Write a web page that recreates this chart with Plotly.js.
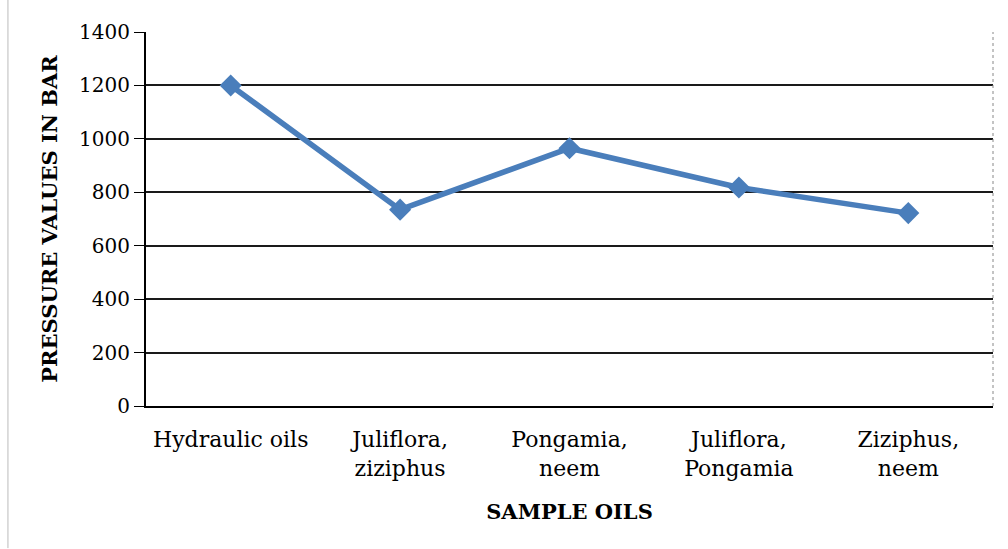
<!DOCTYPE html>
<html>
<head>
<meta charset="utf-8">
<script src="https://cdn.plot.ly/plotly-3.0.1.min.js"></script>
<style>html,body{margin:0;padding:0;background:#fff;}#chart{width:1008px;height:549px;}</style>
</head>
<body>
<div id="chart"></div>
<script>
const categories = ["Hydraulic oils", "Juliflora,<br>ziziphus", "Pongamia,<br>neem", "Juliflora,<br>Pongamia", "Ziziphus,<br>neem"];
const pressureValues = [1200, 735, 965, 818, 722];
const yTickValues = [0, 200, 400, 600, 800, 1000, 1200, 1400];

const trace = {
  x: categories,
  y: pressureValues,
  type: 'scatter',
  mode: 'lines+markers',
  line: {color: '#4A7EBB', width: 5.5},
  marker: {symbol: 'diamond', size: 17, color: '#4A7EBB'},
  hoverinfo: 'x+y'
};

const layout = {
  width: 1008, height: 549,
  margin: {l: 146, r: 15, t: 32, b: 143},
  paper_bgcolor: '#fff', plot_bgcolor: '#fff',
  showlegend: false,
  font: {family: 'DejaVu Serif', color: '#000'},
  xaxis: {
    type: 'category',
    range: [-0.5, 4.5],
    showgrid: false,
    showline: true, linecolor: '#000', linewidth: 2,
    ticks: 'outside', ticklen: 13, tickcolor: 'rgba(0,0,0,0)',
    tickfont: {family: 'DejaVu Serif', size: 22, color: '#000'},
    title: {text: '<b>SAMPLE OILS</b>', font: {family: 'DejaVu Serif', size: 21, color: '#000'}, standoff: 24},
    automargin: false
  },
  yaxis: {
    range: [0, 1400],
    tickvals: yTickValues,
    ticktext: yTickValues.map(String),
    showgrid: true, gridcolor: '#1a1a1a', gridwidth: 2,
    zeroline: false,
    showline: true, linecolor: '#000', linewidth: 2,
    ticks: 'outside', ticklen: 10, tickcolor: '#000', tickwidth: 1,
    tickfont: {family: 'DejaVu Serif', size: 20, color: '#000'},
    title: {text: '<b>PRESSURE VALUES IN BAR</b>', font: {family: 'DejaVu Serif', size: 21, color: '#000'}, standoff: 16},
    automargin: false
  },
  shapes: [
    {type: 'line', xref: 'paper', yref: 'paper', x0: 1, x1: 1, y0: 0, y1: 1,
     line: {color: '#888', width: 1, dash: 'dot'}},
    {type: 'line', xref: 'paper', yref: 'paper', x0: -0.163, x1: -0.163, y0: -0.38, y1: 1.09,
     line: {color: '#bbb', width: 1}}
  ]
};

Plotly.newPlot('chart', [trace], layout, {displayModeBar: false, staticPlot: true});
</script>
</body>
</html>
